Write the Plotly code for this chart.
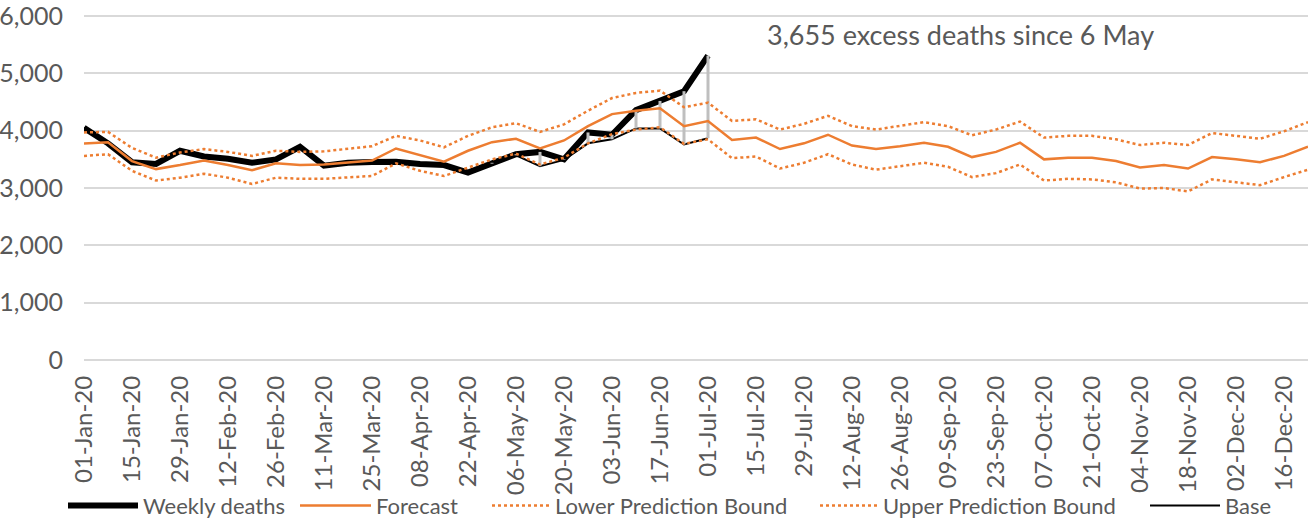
"""Weekly deaths vs forecast with prediction bounds (Excel-style line chart)."""

import pandas as pd
import plotly.graph_objects as go

# week starting dates, 2020 (52 weeks)
weeks = pd.date_range("2020-01-01", periods=52, freq="7D").strftime("%d-%b-%y").tolist()

weekly_deaths = [4050, 3780, 3450, 3420, 3650, 3550, 3510, 3440, 3500, 3720, 3390, 3440, 3455, 3460,
                 3420, 3400, 3270, 3440, 3590, 3630, 3500, 3970, 3930, 4360, 4520, 4690, 5310]

base = [4050, 3780, 3450, 3420, 3650, 3550, 3510, 3440, 3500, 3720, 3390, 3440, 3455, 3460,
        3420, 3400, 3270, 3425, 3570, 3380, 3490, 3780, 3850, 4040, 4040, 3760, 3870]

forecast = [3775, 3800, 3470, 3330, 3400, 3480, 3400, 3310, 3430, 3400, 3410, 3450, 3480, 3690,
            3570, 3460, 3650, 3800, 3860, 3690, 3830, 4080, 4290, 4350, 4390, 4080, 4170,
            3840, 3880, 3680, 3780, 3930, 3740, 3680, 3730, 3790, 3720, 3540, 3630,
            3790, 3500, 3530, 3530, 3470, 3360, 3400, 3340, 3540, 3500, 3450, 3560, 3720]

lower_bound = [3560, 3590, 3300, 3130, 3180, 3250, 3180, 3070, 3180, 3160, 3160, 3190, 3210, 3430,
               3300, 3210, 3360, 3500, 3600, 3410, 3530, 3780, 3940, 4020, 4060, 3770, 3850,
               3520, 3550, 3340, 3440, 3590, 3410, 3320, 3380, 3440, 3370, 3190, 3260,
               3410, 3130, 3160, 3150, 3100, 2990, 3000, 2940, 3150, 3100, 3050, 3190, 3320]

upper_bound = [3970, 3980, 3700, 3530, 3620, 3680, 3630, 3560, 3650, 3630, 3640, 3690, 3730, 3910,
               3830, 3710, 3910, 4060, 4130, 3980, 4110, 4350, 4570, 4660, 4700, 4410, 4490,
               4170, 4200, 4020, 4120, 4260, 4080, 4020, 4080, 4150, 4080, 3920, 4020,
               4160, 3880, 3910, 3910, 3850, 3750, 3790, 3750, 3960, 3910, 3860, 3990, 4150]

excess_note = "3,655 excess deaths since 6 May"

ORANGE = "#ED7D31"
TEXT = "#595959"
GRID = "#D9D9D9"
FONT = "Lato"

fig = go.Figure()

n_obs = len(weekly_deaths)
fig.add_trace(go.Scatter(x=weeks[:n_obs], y=weekly_deaths, name="Weekly deaths", mode="lines",
                         line=dict(color="black", width=6), legend="legend"))
fig.add_trace(go.Scatter(x=weeks[:n_obs], y=base, name="Base", mode="lines",
                         line=dict(color="black", width=2), legend="legend5"))

# high-low lines between base and weekly deaths
hx, hy = [], []
for wk, lo, hi in zip(weeks[:n_obs], base, weekly_deaths):
    hx += [wk, wk, None]
    hy += [lo, hi, None]
fig.add_trace(go.Scatter(x=hx, y=hy, mode="lines", line=dict(color="#BFBFBF", width=3),
                         showlegend=False, hoverinfo="skip"))

fig.add_trace(go.Scatter(x=weeks, y=forecast, name="Forecast", mode="lines",
                         line=dict(color=ORANGE, width=2.5), legend="legend2"))
fig.add_trace(go.Scatter(x=weeks, y=lower_bound, name="Lower Prediction Bound", mode="lines",
                         line=dict(color=ORANGE, width=2.5, dash="dot"), legend="legend3"))
fig.add_trace(go.Scatter(x=weeks, y=upper_bound, name="Upper Prediction Bound", mode="lines",
                         line=dict(color=ORANGE, width=2.5, dash="dot"), legend="legend4"))

fig.add_annotation(text=excess_note, xref="paper", yref="paper", x=0.556, y=0.945,
                   xanchor="left", yanchor="middle", showarrow=False,
                   font=dict(family=FONT, size=27, color=TEXT))


def legend_box(px_left, sample_len):
    # one legend per entry so each sits where Excel put it
    return dict(orientation="h", x=(px_left - 5 - 84) / 1224, xanchor="left",
                y=-0.418, yanchor="middle", itemwidth=sample_len,
                font=dict(family=FONT, size=22, color=TEXT), bgcolor="rgba(0,0,0,0)")


# y range padded a hair so the 0 and 6,000 gridlines are not clipped at the ends
fig.update_layout(
    width=1312, height=521, autosize=False,
    margin=dict(l=84, r=4, t=15, b=160, autoexpand=False),
    paper_bgcolor="white", plot_bgcolor="white",
    font=dict(family=FONT, color=TEXT),
    legend=legend_box(68, 70),
    legend2=legend_box(300, 71),
    legend3=legend_box(492, 58),
    legend4=legend_box(820, 58),
    legend5=legend_box(1150, 70),
)
fig.update_xaxes(type="category", range=[0, len(weeks) - 1], showgrid=False, zeroline=False,
                 showline=False, ticks="", tickangle=-90, tickvals=weeks[::2], automargin=False,
                 tickfont=dict(family=FONT, size=24, color=TEXT), ticklabelstandoff=9)
fig.update_yaxes(range=[-20, 6020], tickvals=[0, 1000, 2000, 3000, 4000, 5000, 6000],
                 tickformat=",", showgrid=True, gridcolor=GRID, gridwidth=2, automargin=False,
                 zeroline=False, showline=False, ticklabeloverflow="allow",
                 tickfont=dict(family=FONT, size=25, color=TEXT), ticklabelstandoff=20)

fig.write_html("out.html", config={"displayModeBar": False},
               post_script="document.body.style.margin = '0';")
